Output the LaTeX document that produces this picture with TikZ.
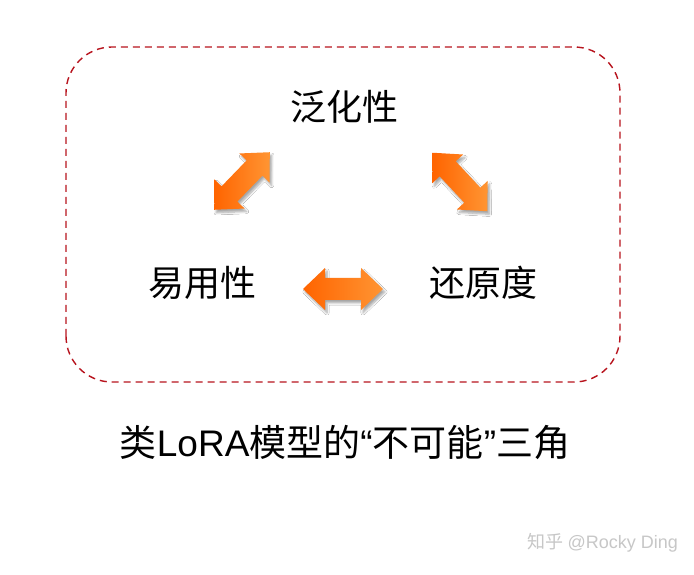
\documentclass[tikz,border=0pt]{standalone}
\usepackage{fontspec}
\setmainfont{Noto Sans CJK SC}
\newfontfamily\cjk{Noto Sans CJK SC}
\newfontfamily\lat{Liberation Sans}
\usetikzlibrary{shadows.blur}
\definecolor{boxred}{HTML}{B8141E}
\definecolor{orA}{HTML}{FF6400}
\definecolor{orB}{HTML}{FF9533}
\tikzset{
  lbl/.style={font=\cjk\fontsize{36}{40}\selectfont, inner sep=0pt},
  pics/dblarr/.style={code={
    \path[left color=orA, right color=orB,
      blur shadow={shadow xshift=2pt, shadow yshift=-3pt, shadow blur steps=6, shadow opacity=35}]
      (-40,0) -- (-18,21) -- (-18,11) -- (18,11) -- (18,21) -- (40,0)
      -- (18,-21) -- (18,-11) -- (-18,-11) -- (-18,-21) -- cycle;
  }},
}
\begin{document}
\begin{tikzpicture}[x=1pt,y=1pt]
\useasboundingbox[fill=white] (0,0) rectangle (694,574);
\draw[boxred, line width=1.4pt, dash pattern=on 7pt off 5pt, rounded corners=46pt]
  (66,192) rectangle (620,527);
\node[lbl] (fan) at (344,467) {泛化性};
\node[lbl] (yi) at (202,291) {易用性};
\node[lbl] (huan) at (483,291) {还原度};
\pic[rotate=46] (a1) at (242,393) {dblarr};
\pic[rotate=-47] (a2) at (460,392) {dblarr};
\pic (a3) at (343,285) {dblarr};
\node[font=\cjk\fontsize{37}{40}\selectfont, inner sep=0pt] (cap) at (345,131) {类{\lat LoRA}模型的{\lat “}不可能{\lat ”}三角};
\node[font=\cjk\fontsize{18}{20}\selectfont, text=black!22, inner sep=0pt, anchor=east] (wm) at (678,31) {知乎 {\lat @Rocky Ding}};
\end{tikzpicture}
\end{document}
